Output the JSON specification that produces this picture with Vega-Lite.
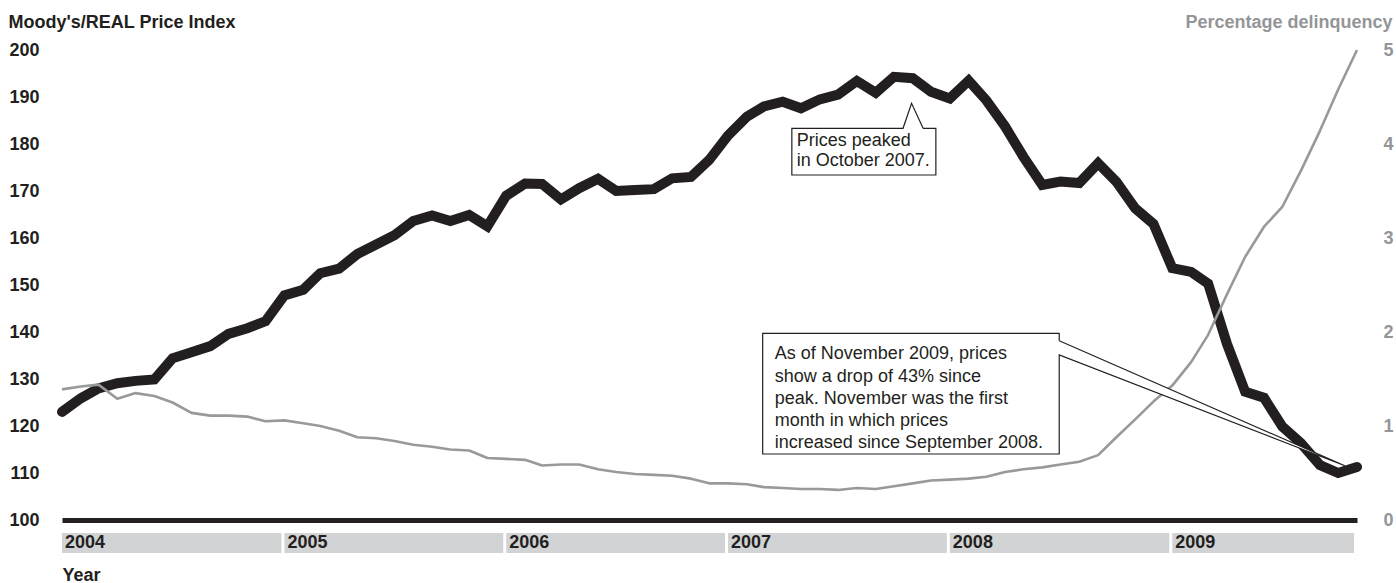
{
  "$schema": "https://vega.github.io/schema/vega-lite/v6.json",
  "background": "white",
  "padding": {"left": 8, "top": 13, "right": 3, "bottom": 0},
  "bounds": "flush",
  "spacing": 13,
  "config": {
    "view": {"stroke": null},
    "font": "Liberation Sans",
    "axis": {
      "grid": false,
      "ticks": false,
      "tickSize": 0,
      "labelFont": "Liberation Sans",
      "titleFont": "Liberation Sans",
      "labelFontSize": 18,
      "labelFontWeight": "bold",
      "titleFontSize": 18,
      "titleFontWeight": "bold",
      "labelFlush": false
    }
  },
  "datasets": {
    "series": [
      {"date": "2004-01-01", "price": 123.0, "delinq": 1.39},
      {"date": "2004-02-01", "price": 125.9, "delinq": 1.42},
      {"date": "2004-03-01", "price": 128.0, "delinq": 1.44},
      {"date": "2004-04-01", "price": 129.1, "delinq": 1.29},
      {"date": "2004-05-01", "price": 129.6, "delinq": 1.35},
      {"date": "2004-06-01", "price": 129.9, "delinq": 1.32},
      {"date": "2004-07-01", "price": 134.4, "delinq": 1.25},
      {"date": "2004-08-01", "price": 135.7, "delinq": 1.14},
      {"date": "2004-09-01", "price": 137.0, "delinq": 1.11},
      {"date": "2004-10-01", "price": 139.6, "delinq": 1.11},
      {"date": "2004-11-01", "price": 140.8, "delinq": 1.10},
      {"date": "2004-12-01", "price": 142.3, "delinq": 1.05},
      {"date": "2005-01-01", "price": 147.8, "delinq": 1.06},
      {"date": "2005-02-01", "price": 149.0, "delinq": 1.03},
      {"date": "2005-03-01", "price": 152.5, "delinq": 1.00},
      {"date": "2005-04-01", "price": 153.5, "delinq": 0.95},
      {"date": "2005-05-01", "price": 156.6, "delinq": 0.88},
      {"date": "2005-06-01", "price": 158.6, "delinq": 0.87},
      {"date": "2005-07-01", "price": 160.6, "delinq": 0.84},
      {"date": "2005-08-01", "price": 163.6, "delinq": 0.80},
      {"date": "2005-09-01", "price": 164.8, "delinq": 0.78},
      {"date": "2005-10-01", "price": 163.6, "delinq": 0.75},
      {"date": "2005-11-01", "price": 164.9, "delinq": 0.74},
      {"date": "2005-12-01", "price": 162.5, "delinq": 0.66},
      {"date": "2006-01-01", "price": 169.0, "delinq": 0.65},
      {"date": "2006-02-01", "price": 171.6, "delinq": 0.64},
      {"date": "2006-03-01", "price": 171.5, "delinq": 0.58},
      {"date": "2006-04-01", "price": 168.2, "delinq": 0.59},
      {"date": "2006-05-01", "price": 170.6, "delinq": 0.59},
      {"date": "2006-06-01", "price": 172.6, "delinq": 0.54},
      {"date": "2006-07-01", "price": 170.0, "delinq": 0.51},
      {"date": "2006-08-01", "price": 170.2, "delinq": 0.49},
      {"date": "2006-09-01", "price": 170.4, "delinq": 0.48},
      {"date": "2006-10-01", "price": 172.7, "delinq": 0.47},
      {"date": "2006-11-01", "price": 173.0, "delinq": 0.44},
      {"date": "2006-12-01", "price": 176.6, "delinq": 0.39},
      {"date": "2007-01-01", "price": 181.8, "delinq": 0.39},
      {"date": "2007-02-01", "price": 185.8, "delinq": 0.38},
      {"date": "2007-03-01", "price": 188.0, "delinq": 0.35},
      {"date": "2007-04-01", "price": 189.0, "delinq": 0.34},
      {"date": "2007-05-01", "price": 187.6, "delinq": 0.33},
      {"date": "2007-06-01", "price": 189.5, "delinq": 0.33},
      {"date": "2007-07-01", "price": 190.5, "delinq": 0.32},
      {"date": "2007-08-01", "price": 193.4, "delinq": 0.34},
      {"date": "2007-09-01", "price": 190.9, "delinq": 0.33},
      {"date": "2007-10-01", "price": 194.3, "delinq": 0.36},
      {"date": "2007-11-01", "price": 194.0, "delinq": 0.39},
      {"date": "2007-12-01", "price": 191.1, "delinq": 0.42},
      {"date": "2008-01-01", "price": 189.7, "delinq": 0.43},
      {"date": "2008-02-01", "price": 193.5, "delinq": 0.44},
      {"date": "2008-03-01", "price": 189.3, "delinq": 0.46},
      {"date": "2008-04-01", "price": 183.7, "delinq": 0.51},
      {"date": "2008-05-01", "price": 177.3, "delinq": 0.54},
      {"date": "2008-06-01", "price": 171.3, "delinq": 0.56},
      {"date": "2008-07-01", "price": 172.0, "delinq": 0.59},
      {"date": "2008-08-01", "price": 171.7, "delinq": 0.62},
      {"date": "2008-09-01", "price": 175.9, "delinq": 0.69},
      {"date": "2008-10-01", "price": 172.0, "delinq": 0.88},
      {"date": "2008-11-01", "price": 166.3, "delinq": 1.07},
      {"date": "2008-12-01", "price": 163.0, "delinq": 1.26},
      {"date": "2009-01-01", "price": 153.6, "delinq": 1.43},
      {"date": "2009-02-01", "price": 152.8, "delinq": 1.68},
      {"date": "2009-03-01", "price": 150.3, "delinq": 1.97},
      {"date": "2009-04-01", "price": 137.5, "delinq": 2.40},
      {"date": "2009-05-01", "price": 127.3, "delinq": 2.80},
      {"date": "2009-06-01", "price": 126.0, "delinq": 3.12},
      {"date": "2009-07-01", "price": 119.9, "delinq": 3.33},
      {"date": "2009-08-01", "price": 116.3, "delinq": 3.72},
      {"date": "2009-09-01", "price": 111.7, "delinq": 4.14},
      {"date": "2009-10-01", "price": 110.0, "delinq": 4.58},
      {"date": "2009-11-01", "price": 111.3, "delinq": 5.00}
    ],
    "callouts": [
      {"note": "peak", "k": 0, "date": "2007-11-18", "value": 183.34},
      {"note": "peak", "k": 1, "date": "2007-12-09", "value": 183.34},
      {"note": "peak", "k": 2, "date": "2007-12-09", "value": 173.40},
      {"note": "peak", "k": 3, "date": "2007-04-16", "value": 173.40},
      {"note": "peak", "k": 4, "date": "2007-04-16", "value": 183.34},
      {"note": "peak", "k": 5, "date": "2007-10-16", "value": 183.34},
      {"note": "peak", "k": 6, "date": "2007-10-30", "value": 188.66},
      {"note": "peak", "k": 7, "date": "2007-11-18", "value": 183.34},
      {"note": "latest", "k": 0, "date": "2008-06-29", "value": 138.15},
      {"note": "latest", "k": 1, "date": "2008-06-29", "value": 139.72},
      {"note": "latest", "k": 2, "date": "2007-02-27", "value": 139.72},
      {"note": "latest", "k": 3, "date": "2007-02-27", "value": 114.04},
      {"note": "latest", "k": 4, "date": "2008-06-29", "value": 114.04},
      {"note": "latest", "k": 5, "date": "2008-06-29", "value": 135.11},
      {"note": "latest", "k": 6, "date": "2009-10-12", "value": 111.55},
      {"note": "latest", "k": 7, "date": "2008-06-29", "value": 138.15}
    ]
  },
  "vconcat": [
    {
      "width": 1295,
      "height": 470,
      "resolve": {"scale": {"y": "independent"}},
      "layer": [
        {
          "data": {"name": "series"},
          "mark": {"type": "line", "color": "#231f20", "strokeWidth": 10, "strokeCap": "round", "strokeJoin": "miter"},
          "encoding": {
            "x": {
              "field": "date",
              "type": "temporal",
              "scale": {"type": "utc", "domain": [{"year": 2004, "month": 1, "date": 1, "utc": true}, {"year": 2009, "month": 11, "date": 1, "utc": true}]},
              "axis": {"labels": false, "domain": true, "domainColor": "#231f20", "domainWidth": 5, "domainCap": "butt", "title": null}
            },
            "y": {
              "field": "price",
              "type": "quantitative",
              "scale": {"domain": [100, 200], "nice": false, "zero": false},
              "axis": {
                "orient": "left",
                "values": [100, 110, 120, 130, 140, 150, 160, 170, 180, 190, 200],
                "domain": false,
                "labelPadding": 23,
                "labelColor": "#231f20",
                "title": "Moody's/REAL Price Index",
                "titleColor": "#231f20",
                "titleAngle": 0,
                "titleAlign": "left",
                "titleBaseline": "alphabetic",
                "titleX": -54,
                "titleY": -23
              }
            }
          }
        },
        {
          "data": {"name": "series"},
          "mark": {"type": "line", "color": "#97999c", "strokeWidth": 2.6, "strokeJoin": "round"},
          "encoding": {
            "x": {"field": "date", "type": "temporal"},
            "y": {
              "field": "delinq",
              "type": "quantitative",
              "scale": {"domain": [0, 5], "nice": false},
              "axis": {
                "orient": "right",
                "values": [0, 1, 2, 3, 4, 5],
                "domain": false,
                "labelPadding": 26,
                "labelColor": "#939598",
                "title": "Percentage delinquency",
                "titleColor": "#939598",
                "titleAngle": 0,
                "titleAlign": "right",
                "titleBaseline": "alphabetic",
                "titleX": 35,
                "titleY": -23
              }
            }
          }
        },
        {
          "data": {"name": "callouts"},
          "mark": {"type": "line", "fill": "white", "stroke": "#231f20", "strokeWidth": 1.2, "strokeJoin": "miter"},
          "encoding": {
            "x": {"field": "date", "type": "temporal"},
            "y": {"field": "value", "type": "quantitative", "scale": {"domain": [100, 200], "nice": false, "zero": false}, "axis": null},
            "detail": {"field": "note", "type": "nominal"},
            "order": {"field": "k", "type": "quantitative"}
          }
        },
        {
          "data": {"values": [{"date": "2007-04-24", "value": 179.57, "lines": ["Prices peaked", "in October 2007."]}]},
          "mark": {"type": "text", "align": "left", "baseline": "alphabetic", "font": "Liberation Sans", "fontSize": 18, "lineHeight": 19.5, "color": "#231f20"},
          "encoding": {
            "x": {"field": "date", "type": "temporal"},
            "y": {"field": "value", "type": "quantitative", "scale": {"domain": [100, 200], "nice": false, "zero": false}, "axis": null},
            "text": {"field": "lines"}
          }
        },
        {
          "data": {"values": [{"date": "2007-03-19", "value": 134.19, "lines": ["As of November 2009, prices", "show a drop of 43% since", "peak. November was the first", "month in which prices", "increased since September 2008."]}]},
          "mark": {"type": "text", "align": "left", "baseline": "alphabetic", "font": "Liberation Sans", "fontSize": 18, "lineHeight": 22.3, "color": "#231f20"},
          "encoding": {
            "x": {"field": "date", "type": "temporal"},
            "y": {"field": "value", "type": "quantitative", "scale": {"domain": [100, 200], "nice": false, "zero": false}, "axis": null},
            "text": {"field": "lines"}
          }
        }
      ]
    },
    {
      "width": 1295,
      "height": 20,
      "data": {"values": [
        {"year": "2004", "start": "2004-01-01", "end": "2005-01-01"},
        {"year": "2005", "start": "2005-01-01", "end": "2006-01-01"},
        {"year": "2006", "start": "2006-01-01", "end": "2007-01-01"},
        {"year": "2007", "start": "2007-01-01", "end": "2008-01-01"},
        {"year": "2008", "start": "2008-01-01", "end": "2009-01-01"},
        {"year": "2009", "start": "2009-01-01", "end": "2009-11-01"}
      ]},
      "layer": [
        {
          "mark": {"type": "rect", "color": "#d1d3d4", "x2Offset": -3},
          "encoding": {
            "x": {
              "field": "start",
              "type": "temporal",
              "scale": {"type": "utc", "domain": [{"year": 2004, "month": 1, "date": 1, "utc": true}, {"year": 2009, "month": 11, "date": 1, "utc": true}]},
              "axis": {"labels": false, "domain": false, "title": "Year", "titleColor": "#231f20", "titleAnchor": "start", "titleAlign": "left", "titlePadding": 13}
            },
            "x2": {"field": "end"}
          }
        },
        {
          "mark": {"type": "text", "align": "left", "baseline": "middle", "dx": 3, "font": "Liberation Sans", "fontSize": 18, "fontWeight": "bold", "color": "#231f20"},
          "encoding": {
            "x": {"field": "start", "type": "temporal"},
            "text": {"field": "year", "type": "nominal"}
          }
        }
      ]
    }
  ]
}
